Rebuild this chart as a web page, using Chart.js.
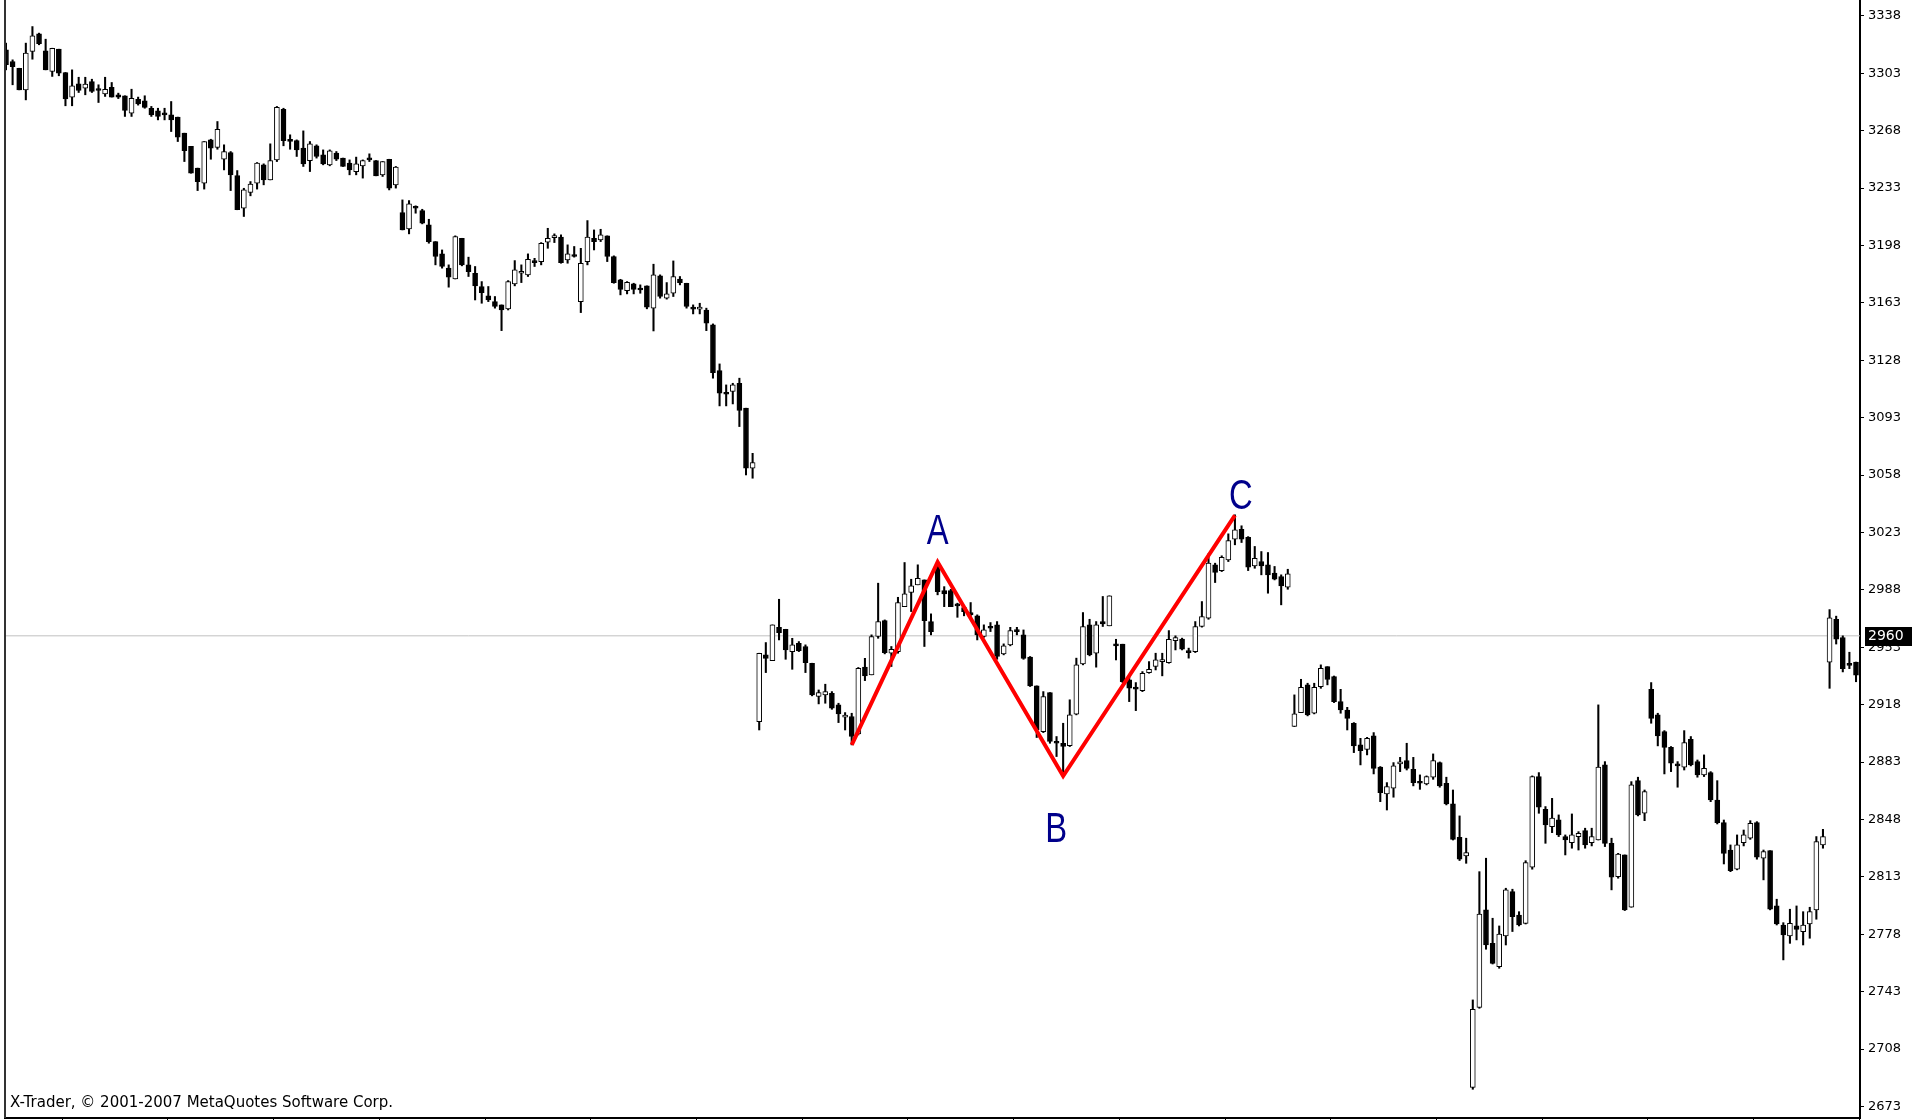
<!DOCTYPE html>
<html><head><meta charset="utf-8">
<script src="https://cdn.jsdelivr.net/npm/chart.js@4.4.1/dist/chart.umd.min.js"></script>
<style>html,body{margin:0;padding:0;background:#fff;overflow:hidden}canvas{display:block}</style>
</head><body>
<canvas id="c" width="1917" height="1120"></canvas>
<script>
// ---- data ----
const openP = [3317.3,3310.2,3306.1,3292.9,3316.3,3327.1,3316.7,3304.1,3317.7,3303.5,3288.5,3296.6,3293.9,3298.0,3293.3,3290.5,3294.5,3289.9,3289.3,3278.7,3287.2,3286.2,3281.7,3280.1,3278.7,3277.7,3276.3,3266.5,3258.4,3245.2,3236.0,3262.4,3257.8,3250.6,3254.7,3240.7,3220.8,3230.3,3236.0,3247.2,3238.0,3250.2,3281.1,3262.8,3262.0,3257.4,3249.8,3258.8,3253.3,3247.2,3254.3,3251.3,3248.2,3243.1,3246.6,3250.6,3249.8,3241.1,3250.6,3235.0,
3218.1,3208.1,3221.8,3219.3,3210.6,3200.4,3192.9,3184.2,3177.6,3202.4,3186.2,3181.1,3173.0,3167.3,3163.8,3161.8,3159.4,3174.6,3181.1,3180.1,3188.8,3188.2,3200.0,3202.8,3203.1,3189.2,3192.3,3163.8,3188.2,3202.4,3201.4,3203.9,3191.3,3177.0,3170.5,3174.6,3172.0,3173.4,3159.8,3179.5,3165.9,3168.9,3177.6,3175.0,3159.8,3159.2,3158.7,3149.6,3121.7,3107.9,3109.0,3114.0,3098.8,3062.2,
2907.7,2948.4,2944.9,2965.2,2964.0,2950.4,2955.5,2953.5,2943.3,2923.0,2924.0,2925.0,2917.9,2910.4,2910.8,2900.2,2940.9,2936.2,2959.6,2969.3,2949.4,2950.4,2977.8,2986.4,2991.1,2994.1,2968.7,3003.3,2987.6,2987.6,2978.9,2977.2,2974.2,2972.2,2959.6,2965.7,2966.7,2949.0,2954.5,2963.6,2960.6,2947.0,2929.5,
2901.6,2925.4,2895.6,2894.5,2893.1,2912.2,2942.9,2966.7,2949.4,2968.7,2966.1,2955.1,2954.9,2933.1,2928.7,2926.6,2937.6,2941.3,2944.3,2943.7,2957.1,2958.0,2951.0,2950.4,2965.7,2970.8,3003.3,2999.8,3006.3,3018.9,3025.0,3020.1,3002.7,3005.3,3003.3,2998.2,2996.2,2989.7,
2904.7,2913.2,2930.1,2912.8,2929.0,2941.2,2935.1,2919.9,2914.8,2906.7,2893.5,2890.8,2899.0,2879.9,2863.6,2867.1,2881.9,2883.9,2878.6,2871.1,2869.7,2873.8,2882.7,2870.1,2857.5,2837.2,2825.8,2684.7,2733.5,2792.9,2772.5,2758.3,2777.0,2804.0,2789.8,2784.7,2818.9,2874.2,2854.2,2843.7,2847.8,
2837.6,2833.9,2837.6,2841.2,2833.9,2835.5,2881.3,2833.5,2813.2,2826.4,2794.5,2871.7,2851.8,2927.4,2911.8,2901.6,2892.0,2881.9,2879.9,2896.9,2883.3,2875.2,2876.6,2859.9,2846.1,2829.4,2817.7,2833.9,2836.6,2846.1,2824.4,2829.0,2795.3,2783.7,2777.0,2783.1,2779.6,2784.3,2792.9,2832.5,
2944.0,2970.0,2959.0,2943.0,2944.0];
const highP = [3321.4,3311.2,3306.1,3321.4,3331.5,3327.5,3323.8,3318.3,3317.7,3303.5,3305.1,3300.6,3300.6,3299.4,3296.0,3300.6,3297.4,3290.9,3289.3,3293.3,3288.5,3289.3,3282.8,3281.7,3281.7,3285.8,3276.3,3266.5,3258.4,3245.2,3261.4,3262.8,3273.6,3259.4,3255.3,3243.7,3232.9,3237.0,3248.6,3247.8,3260.0,3282.8,3281.7,3265.5,3262.4,3267.9,3261.4,3259.4,3256.3,3256.3,3255.3,3251.3,3250.2,3251.9,3250.2,3253.9,3249.8,3249.2,3250.6,3246.2,
3225.8,3225.4,3222.2,3220.1,3214.0,3200.4,3195.3,3186.2,3203.9,3202.4,3190.9,3185.2,3176.0,3173.0,3166.9,3161.8,3176.6,3188.8,3186.2,3192.9,3190.2,3199.8,3208.5,3205.1,3204.5,3198.4,3197.4,3196.3,3213.2,3207.5,3207.9,3203.9,3191.7,3177.4,3176.0,3175.0,3174.0,3173.4,3186.6,3180.1,3175.4,3188.6,3179.1,3175.0,3161.8,3162.8,3159.8,3150.2,3125.8,3113.0,3114.0,3117.1,3098.8,3071.3,
2949.4,2955.9,2966.7,2982.3,2964.0,2958.5,2956.5,2954.5,2943.3,2927.0,2930.5,2926.0,2918.9,2913.2,2912.8,2940.7,2946.3,2960.6,2992.1,2969.7,2953.5,2983.5,3004.7,2994.5,3003.3,2994.1,2973.4,3005.3,2990.0,2988.4,2979.9,2977.8,2980.3,2972.8,2966.7,2968.1,2968.7,2955.1,2965.2,2965.2,2963.6,2947.4,2929.5,
2926.0,2925.4,2898.6,2906.7,2921.0,2946.4,2974.2,2970.1,2968.7,2984.0,2984.4,2957.9,2954.9,2936.2,2931.5,2938.2,2944.3,2949.4,2949.4,2963.2,2960.0,2958.6,2952.5,2968.7,2980.9,3010.0,3004.3,3008.8,3022.2,3033.8,3027.1,3020.5,3014.5,3011.4,3010.8,3002.3,2997.2,3000.6,
2924.0,2933.5,2931.1,2931.1,2942.3,2941.2,2935.5,2927.4,2916.4,2907.1,2897.5,2898.1,2901.0,2880.3,2870.5,2882.7,2885.9,2894.5,2885.9,2875.2,2874.6,2888.0,2883.1,2873.8,2866.0,2850.2,2836.6,2738.0,2816.2,2824.4,2787.8,2783.1,2806.1,2805.5,2791.8,2822.9,2874.6,2876.6,2855.9,2860.9,2850.8,
2838.6,2851.4,2840.6,2842.7,2842.7,2917.9,2883.3,2836.6,2827.4,2826.4,2871.1,2873.8,2866.0,2931.5,2912.8,2902.2,2892.5,2883.3,2902.2,2898.6,2884.3,2887.4,2877.2,2871.7,2847.7,2832.5,2838.6,2841.6,2847.3,2846.7,2829.4,2829.0,2799.4,2785.1,2793.3,2795.3,2791.8,2794.5,2837.6,2842.0,
2976.0,2972.0,2960.0,2950.0,2944.0];
const lowP = [3305.1,3296.0,3292.9,3286.8,3311.6,3320.4,3305.1,3301.1,3301.5,3283.2,3283.2,3291.3,3289.9,3291.3,3285.2,3288.9,3288.5,3287.6,3276.7,3276.7,3283.6,3281.7,3276.7,3274.6,3274.6,3267.5,3261.4,3249.2,3242.1,3231.5,3232.4,3250.6,3256.7,3244.1,3231.5,3219.8,3215.7,3228.3,3232.4,3235.0,3238.0,3249.2,3258.8,3256.7,3252.3,3246.2,3243.1,3251.3,3247.2,3246.6,3249.8,3246.2,3241.1,3241.1,3239.1,3249.2,3240.5,3240.1,3231.9,3233.0,
3207.5,3205.1,3217.7,3211.2,3199.4,3186.2,3184.2,3172.6,3177.6,3185.6,3179.1,3164.8,3162.8,3163.8,3159.8,3146.1,3158.7,3173.4,3175.4,3179.1,3185.2,3186.2,3196.3,3199.8,3187.2,3187.2,3190.9,3157.1,3186.2,3195.3,3200.4,3188.2,3175.0,3167.9,3168.5,3168.5,3168.9,3159.4,3145.9,3165.9,3165.3,3166.9,3174.0,3159.8,3156.3,3156.3,3146.1,3117.1,3100.2,3100.2,3101.4,3087.6,3058.1,3056.1,
2902.6,2937.6,2944.9,2957.5,2945.7,2939.6,2950.4,2937.6,2923.4,2918.5,2918.9,2915.2,2907.1,2902.6,2893.5,2899.6,2932.7,2936.2,2958.5,2949.0,2941.3,2949.4,2977.8,2974.8,2991.1,2953.5,2960.6,2985.0,2977.8,2977.8,2971.3,2972.2,2970.7,2957.5,2959.1,2962.6,2945.7,2948.4,2953.9,2960.6,2945.7,2929.1,2898.0,
2901.0,2894.5,2886.4,2874.2,2892.5,2911.8,2942.3,2947.8,2940.9,2965.7,2966.1,2945.3,2931.5,2919.9,2914.4,2926.0,2937.2,2939.2,2935.6,2943.3,2951.4,2951.4,2946.4,2949.8,2965.3,2970.1,2992.5,2999.2,3005.3,3015.5,3016.9,2999.8,3001.2,2997.2,2986.0,2994.1,2978.9,2988.4,
2904.7,2913.2,2911.2,2912.4,2928.0,2930.1,2919.3,2912.8,2902.6,2888.8,2881.3,2887.4,2875.8,2858.9,2853.8,2861.6,2877.2,2878.2,2868.5,2866.4,2869.1,2872.5,2867.7,2856.9,2835.5,2823.0,2821.3,2683.5,2732.9,2768.9,2759.9,2757.3,2771.5,2779.7,2783.1,2784.3,2817.7,2851.8,2833.5,2840.0,2837.6,
2826.4,2830.5,2829.4,2830.5,2831.9,2835.5,2831.5,2805.1,2812.2,2792.5,2794.5,2850.2,2847.3,2906.7,2892.9,2875.8,2877.2,2867.7,2878.2,2880.7,2873.8,2874.2,2858.9,2845.3,2820.9,2816.2,2817.3,2831.9,2835.9,2823.8,2811.2,2792.9,2783.7,2762.4,2772.5,2774.6,2771.5,2775.6,2787.2,2830.5,
2928.0,2955.0,2938.0,2940.0,2932.0];
const closeP = [3308.2,3307.1,3292.9,3315.3,3325.8,3321.0,3305.1,3318.3,3303.1,3287.4,3295.4,3292.5,3296.4,3291.9,3292.5,3293.3,3288.5,3288.5,3280.3,3287.8,3284.4,3282.2,3277.7,3276.7,3277.7,3274.6,3264.1,3255.9,3242.1,3237.0,3261.4,3257.4,3268.9,3255.3,3241.1,3219.8,3231.9,3235.4,3248.2,3238.0,3249.8,3282.2,3262.0,3261.4,3256.3,3247.8,3260.0,3252.3,3247.8,3255.7,3250.6,3246.2,3244.1,3247.8,3249.8,3250.2,3240.5,3249.2,3233.0,3245.8,
3207.5,3223.4,3220.7,3211.6,3200.4,3191.3,3185.2,3178.7,3203.5,3186.2,3182.1,3173.4,3169.3,3164.8,3160.8,3158.7,3176.0,3183.1,3182.1,3189.6,3187.6,3199.4,3202.4,3203.5,3187.6,3192.9,3191.3,3187.2,3203.1,3200.4,3204.5,3191.3,3175.4,3171.3,3175.6,3171.3,3170.9,3160.4,3180.1,3166.9,3168.5,3179.1,3175.4,3160.8,3159.2,3159.8,3150.6,3120.5,3107.9,3107.3,3113.0,3097.4,3062.2,3065.7,
2949.4,2946.3,2966.7,2962.0,2951.4,2954.5,2951.0,2943.7,2924.0,2925.4,2926.0,2915.9,2912.4,2911.2,2898.6,2940.2,2935.6,2959.6,2968.7,2949.8,2951.8,2980.3,2985.6,2990.5,2995.1,2969.3,2962.6,2987.0,2985.6,2977.8,2978.3,2974.8,2972.8,2960.6,2963.6,2964.6,2947.4,2953.9,2963.2,2962.6,2946.3,2929.5,2902.6,
2923.0,2895.6,2894.5,2892.5,2911.8,2942.3,2965.7,2948.4,2966.7,2967.3,2984.4,2953.9,2932.1,2928.1,2927.5,2937.2,2939.6,2945.3,2945.3,2957.9,2959.0,2951.9,2949.8,2965.7,2971.8,3004.3,2998.6,3007.9,3018.1,3024.6,3018.9,3001.8,3007.3,3002.7,2997.2,2994.5,2990.5,2997.8,
2912.4,2928.6,2911.8,2928.6,2940.2,2933.5,2919.9,2914.8,2909.7,2892.9,2890.0,2897.5,2879.2,2864.4,2868.1,2880.7,2882.7,2879.2,2870.5,2870.1,2874.2,2883.9,2868.5,2857.5,2835.9,2823.8,2827.8,2732.3,2790.4,2771.5,2760.3,2778.2,2805.1,2788.8,2783.7,2821.7,2874.2,2855.5,2844.7,2848.8,2838.6,
2835.5,2838.6,2839.6,2832.5,2837.6,2879.9,2833.5,2812.8,2827.0,2792.9,2869.1,2850.8,2865.0,2909.7,2899.0,2892.0,2882.3,2880.7,2894.9,2881.3,2875.2,2879.2,2859.9,2846.1,2827.4,2816.8,2832.5,2838.6,2845.7,2825.0,2828.4,2793.3,2784.3,2777.6,2784.7,2781.0,2783.7,2791.8,2834.5,2837.6,
2971.0,2958.0,2940.0,2942.0,2936.0];

const yTicks = [2673,2708,2743,2778,2813,2848,2883,2918,2953,2988,3023,3058,3093,3128,3163,3198,3233,3268,3303,3338];
const xTickIdx = [0.5,16.5,32.5,48.5,64.5,80.5,96.5,112.5,128.5,144.5,160.5,176.5,192.5,208.5,224.5,240.5,256.5,272.5];
const levelPrice = 2960;
const zigzagIdx = [128, 141, 160, 186];
const zigzagPrice = [2893.5, 3005.0, 2874.5, 3033.5];
const pivotLabels = ['', 'A', 'B', 'C'];
const footerText = 'X-Trader, \u00A9 2001-2007 MetaQuotes Software Corp.';

// ---- build datasets ----
const idx = openP.map((_, i) => i);
const xMin = -0.151, xMax = 280.605;
const yMin = 2666.0, yMax = 3347.7;

const wickData = idx.map(i => ({x: i, y: [lowP[i], highP[i]]}));
const bodyData = idx.map(i => ({x: i, y: [openP[i], closeP[i]]}));
const bodyColors = idx.map(i => closeP[i] >= openP[i] ? '#ffffff' : '#000000');

const labelOffsets = [[0,0],[0,-30],[-7,54],[6,-18]];

const chrome = {
  id: 'chrome',
  afterDatasetsDraw(chart) {
    const {ctx, scales: {x, y}} = chart;
    ctx.save();
    ctx.fillStyle = '#00008B';
    ctx.font = '42px "Liberation Sans", Arial, sans-serif';
    ctx.textAlign = 'center';
    ctx.textBaseline = 'middle';
    zigzagIdx.forEach((xi, k) => {
      const t = pivotLabels[k];
      if (!t) return;
      const px = x.getPixelForValue(xi) + labelOffsets[k][0];
      const py = y.getPixelForValue(zigzagPrice[k]) + labelOffsets[k][1];
      ctx.save();
      ctx.translate(px, py);
      ctx.scale(0.78, 1);
      ctx.fillText(t, 0, 0);
      ctx.restore();
    });
    ctx.restore();
  },
  afterDraw(chart) {
    const {ctx, chartArea: a, scales: {y}} = chart;
    ctx.save();
    // left border
    ctx.strokeStyle = '#333';
    ctx.lineWidth = 2;
    ctx.beginPath(); ctx.moveTo(a.left, 0); ctx.lineTo(a.left, a.bottom); ctx.stroke();
    // footer
    ctx.fillStyle = '#000';
    ctx.font = '15px "DejaVu Sans", sans-serif';
    ctx.textAlign = 'left';
    ctx.textBaseline = 'middle';
    ctx.fillText(footerText, a.left + 5, 1103);
    // current level box
    const py = y.getPixelForValue(levelPrice);
    ctx.fillStyle = '#000';
    ctx.fillRect(a.right + 5, Math.round(py) - 9, 47, 19);
    ctx.fillStyle = '#fff';
    ctx.font = '14px "DejaVu Sans", sans-serif';
    ctx.fillText(String(levelPrice), a.right + 8, py + 1);
    ctx.restore();
  }
};

new Chart(document.getElementById('c'), {
  type: 'bar',
  data: {
    datasets: [
      { type: 'line', label: 'level', data: [{x: xMin, y: levelPrice}, {x: xMax, y: levelPrice}],
        borderColor: '#c0c0c0', borderWidth: 1, pointRadius: 0, order: 6 },
      { type: 'bar', label: 'wicks', data: wickData, backgroundColor: '#000', borderWidth: 0,
        barThickness: 1.4, grouped: false, order: 4 },
      { type: 'bar', label: 'bodies', data: bodyData, backgroundColor: bodyColors, borderColor: '#000',
        borderWidth: 1, borderSkipped: false, barThickness: 5, minBarLength: 2, grouped: false, order: 3 },
      { type: 'line', label: 'zigzag', data: zigzagIdx.map((xi, k) => ({x: xi, y: zigzagPrice[k]})),
        borderColor: '#ff0000', borderWidth: 4, pointRadius: 0, tension: 0, order: 1 }
    ]
  },
  options: {
    responsive: false,
    devicePixelRatio: 1,
    animation: false,
    events: [],
    layout: { padding: { left: 5, right: 0, top: 0, bottom: 0 } },
    plugins: { legend: { display: false }, tooltip: { enabled: false } },
    scales: {
      x: {
        type: 'linear', min: xMin, max: xMax, offset: false,
        afterBuildTicks: s => { s.ticks = xTickIdx.map(v => ({value: v})); },
        afterFit: s => { s.height = 2; s.paddingLeft = 0; s.paddingRight = 0; },
        ticks: { display: false },
        grid: { drawOnChartArea: false, drawTicks: true, tickLength: 6, color: '#000' },
        border: { display: true, color: '#000', width: 2 }
      },
      y: {
        type: 'linear', position: 'right', min: yMin, max: yMax,
        afterBuildTicks: s => { s.ticks = yTicks.map(v => ({value: v})); },
        afterFit: s => { s.width = 57; s.paddingTop = 0; s.paddingBottom = 0; },
        ticks: { color: '#000', font: { family: 'DejaVu Sans', size: 13 }, padding: 4, autoSkip: false,
                 callback: v => String(v) },
        grid: { drawOnChartArea: false, drawTicks: true, tickLength: 4, color: '#000' },
        border: { display: true, color: '#000', width: 2 }
      }
    }
  },
  plugins: [chrome]
});
</script>
</body></html>
